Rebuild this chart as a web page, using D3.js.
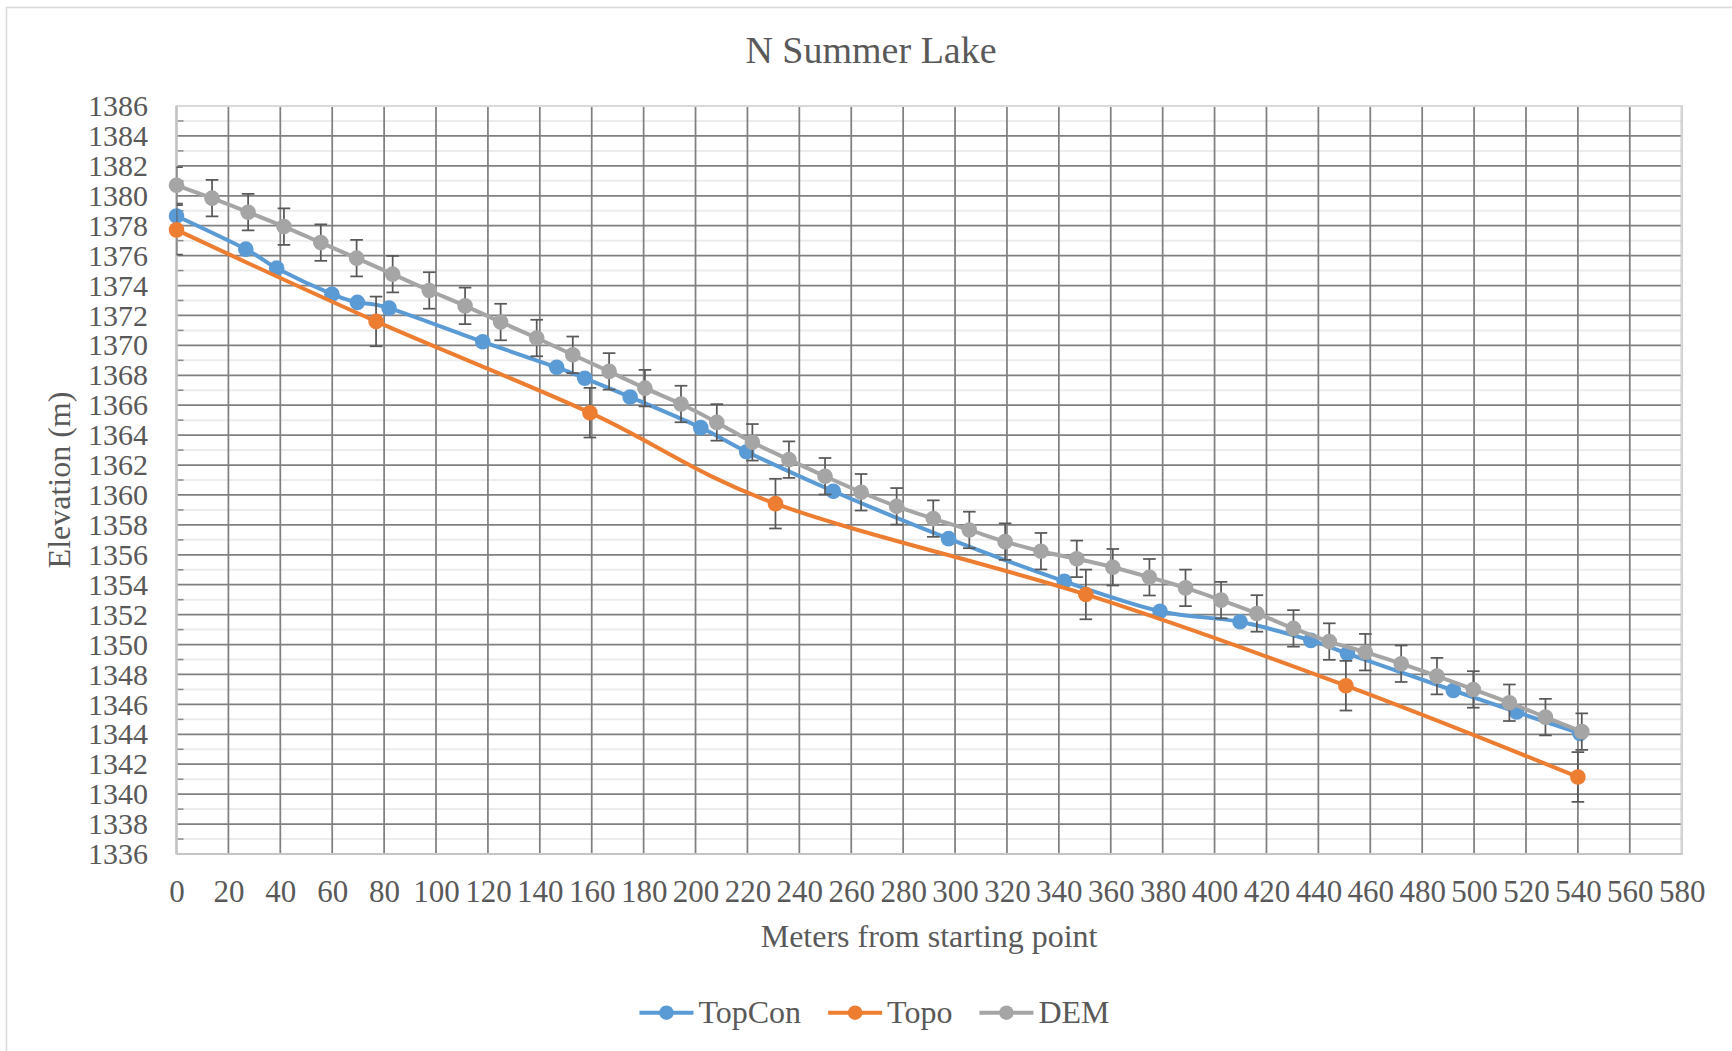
<!DOCTYPE html>
<html>
<head>
<meta charset="utf-8">
<script src="https://cdn.jsdelivr.net/npm/d3@7"></script>
<style>
  body { margin: 0; background: #fff; }
  svg { display: block; font-family: "Liberation Serif", "Times New Roman", serif; }
  .tick text { fill: #595959; }
</style>
</head>
<body>
<div id="chart"></div>
<script>
// Values (metres)
const topconDist = [0, 26.7, 38.6, 59.9, 69.7, 81.9, 118.0, 146.5, 157.3, 174.8, 202.0, 219.7,
  253.1, 297.5, 342.1, 379.0, 409.8, 437.1, 451.2, 492.0, 516.4, 540.8];
const topconElev = [1378.65, 1376.43, 1375.16, 1373.42, 1372.87, 1372.49, 1370.24, 1368.53, 1367.80,
  1366.55, 1364.50, 1362.89, 1360.25, 1357.08, 1354.23, 1352.23, 1351.52, 1350.28, 1349.40,
  1346.93, 1345.49, 1344.06];

const topoDist = [0, 76.9, 159.3, 230.8, 350.4, 450.6, 540.0];
const topoElev = [1377.72, 1371.60, 1365.50, 1359.42, 1353.35, 1347.25, 1341.15];
const topoErr = [1.66, 1.66, 1.66, 1.66, 1.66, 1.66, 1.66];

const demDist = [0, 13.7, 27.6, 41.4, 55.6, 69.4, 83.3, 97.4, 111.2, 124.9, 138.8, 152.7, 166.7,
  180.5, 194.4, 208.2, 221.9, 236.0, 249.9, 263.8, 277.5, 291.6, 305.5, 319.3, 333.1, 346.9,
  360.8, 374.9, 388.8, 402.5, 416.3, 430.4, 444.2, 458.1, 471.9, 485.7, 499.7, 513.6, 527.5, 541.5];
const demElev = [1380.70, 1379.84, 1378.90, 1377.94, 1376.87, 1375.83, 1374.76, 1373.67, 1372.64,
  1371.56, 1370.49, 1369.37, 1368.26, 1367.14, 1366.08, 1364.85, 1363.52, 1362.36, 1361.25,
  1360.18, 1359.24, 1358.42, 1357.66, 1356.88, 1356.24, 1355.73, 1355.17, 1354.50, 1353.79,
  1352.97, 1352.08, 1351.08, 1350.20, 1349.49, 1348.72, 1347.89, 1347.00, 1346.11, 1345.15, 1344.18];
const demErr = demDist.map(() => 1.22);

const xTicks = d3.range(0, 581, 20);
const yTicks = d3.range(1336, 1387, 2);
const yMinor = d3.range(1337, 1386, 2);

const series = [
  { name: "TopCon", color: "#5B9BD5", dist: topconDist, elev: topconElev, err: null },
  { name: "Topo", color: "#ED7D31", dist: topoDist, elev: topoElev, err: topoErr },
  { name: "DEM", color: "#A5A5A5", dist: demDist, elev: demElev, err: demErr },
];

const width = 1732, height = 1051;
const plot = { left: 176.5, right: 1681.7, top: 106, bottom: 854 };
const textColor = "#595959";

const x = d3.scaleLinear().domain([0, 580]).range([plot.left, plot.right]);
const y = d3.scaleLinear().domain([1336, 1386]).range([plot.bottom, plot.top]);

const svg = d3.select("#chart").append("svg")
  .attr("width", width).attr("height", height);

// chart area border (extends past the picture on right/bottom)
svg.append("rect")
  .attr("x", 6.5).attr("y", 7.5).attr("width", width + 20).attr("height", height + 20)
  .attr("fill", "#fff").attr("stroke", "#d9d9d9").attr("stroke-width", 1.5);

svg.append("defs").append("clipPath").attr("id", "plot-clip")
  .append("rect")
  .attr("x", plot.left).attr("y", plot.top)
  .attr("width", plot.right - plot.left).attr("height", plot.bottom - plot.top);

// minor horizontal gridlines
svg.append("g").selectAll("line").data(yMinor).join("line")
  .attr("x1", plot.left).attr("x2", plot.right)
  .attr("y1", (d) => y(d)).attr("y2", (d) => y(d))
  .attr("stroke", "#ececec").attr("stroke-width", 2);

// minor tick marks on the value axis
svg.append("g").selectAll("line").data(yMinor).join("line")
  .attr("x1", plot.left).attr("x2", plot.left + 7)
  .attr("y1", (d) => y(d)).attr("y2", (d) => y(d))
  .attr("stroke", "#8c8c8c").attr("stroke-width", 1.5);

// major gridlines
svg.append("g").selectAll("line").data(yTicks).join("line")
  .attr("x1", plot.left).attr("x2", plot.right)
  .attr("y1", (d) => y(d)).attr("y2", (d) => y(d))
  .attr("stroke", "#808080").attr("stroke-width", 1.75);

svg.append("g").selectAll("line").data(xTicks).join("line")
  .attr("y1", plot.top).attr("y2", plot.bottom)
  .attr("x1", (d) => x(d)).attr("x2", (d) => x(d))
  .attr("stroke", "#808080").attr("stroke-width", 1.75);

// plot area border and axis lines
svg.append("rect")
  .attr("x", plot.left).attr("y", plot.top)
  .attr("width", plot.right - plot.left).attr("height", plot.bottom - plot.top)
  .attr("fill", "none").attr("stroke", "#d9d9d9").attr("stroke-width", 2);

svg.append("line")
  .attr("x1", plot.left).attr("x2", plot.left).attr("y1", plot.top).attr("y2", plot.bottom)
  .attr("stroke", "#c4c4c4").attr("stroke-width", 2);
svg.append("line")
  .attr("x1", plot.left).attr("x2", plot.right).attr("y1", plot.bottom).attr("y2", plot.bottom)
  .attr("stroke", "#c4c4c4").attr("stroke-width", 2);

// axis labels
const yAxis = svg.append("g")
  .attr("transform", `translate(${plot.left},0)`)
  .call(d3.axisLeft(y).tickValues(yTicks).tickSize(0).tickPadding(28.5).tickFormat(d3.format("d")));
const xAxis = svg.append("g")
  .attr("transform", `translate(0,${plot.bottom})`)
  .call(d3.axisBottom(x).tickValues(xTicks).tickSize(0).tickPadding(26).tickFormat(d3.format("d")));
[yAxis, xAxis].forEach((g) => {
  g.attr("font-family", null).attr("font-size", null);
  g.select(".domain").remove();
});
yAxis.selectAll("text").attr("font-size", 30);
xAxis.selectAll("text").attr("font-size", 31);

// series: line, error bars, markers
const line = d3.line()
  .x((d) => x(d[0]))
  .y((d) => y(d[1]))
  .curve(d3.curveCatmullRom.alpha(0));

series.forEach((s) => {
  const pts = s.dist.map((d, i) => [d, s.elev[i], s.err ? s.err[i] : 0]);
  const g = svg.append("g").attr("class", "series");

  g.append("path")
    .datum(pts)
    .attr("d", line)
    .attr("fill", "none")
    .attr("stroke", s.color)
    .attr("stroke-width", 4)
    .attr("stroke-linejoin", "round");

  if (s.err) {
    const eb = g.append("g").attr("clip-path", "url(#plot-clip)")
      .attr("stroke", "#595959").attr("stroke-width", 1.75);
    eb.selectAll("line.stem").data(pts).join("line").attr("class", "stem")
      .attr("x1", (d) => x(d[0])).attr("x2", (d) => x(d[0]))
      .attr("y1", (d) => y(d[1] + d[2])).attr("y2", (d) => y(d[1] - d[2]));
    eb.selectAll("line.cap-top").data(pts).join("line").attr("class", "cap-top")
      .attr("x1", (d) => x(d[0]) - 6.3).attr("x2", (d) => x(d[0]) + 6.3)
      .attr("y1", (d) => y(d[1] + d[2])).attr("y2", (d) => y(d[1] + d[2]));
    eb.selectAll("line.cap-bot").data(pts).join("line").attr("class", "cap-bot")
      .attr("x1", (d) => x(d[0]) - 6.3).attr("x2", (d) => x(d[0]) + 6.3)
      .attr("y1", (d) => y(d[1] - d[2])).attr("y2", (d) => y(d[1] - d[2]));
  }

  g.selectAll("circle").data(pts).join("circle")
    .attr("cx", (d) => x(d[0]))
    .attr("cy", (d) => y(d[1]))
    .attr("r", 7.8)
    .attr("fill", s.color);
});

// titles
svg.append("text")
  .attr("x", 871).attr("y", 62.7)
  .attr("text-anchor", "middle")
  .attr("font-size", 38).attr("fill", textColor)
  .text("N Summer Lake");

svg.append("text")
  .attr("x", (plot.left + plot.right) / 2).attr("y", 946.7)
  .attr("text-anchor", "middle")
  .attr("font-size", 32).attr("fill", textColor)
  .text("Meters from starting point");

svg.append("text")
  .attr("transform", `translate(70,${(plot.top + plot.bottom) / 2}) rotate(-90)`)
  .attr("text-anchor", "middle")
  .attr("font-size", 32).attr("fill", textColor)
  .text("Elevation (m)");

// legend, centred under the chart
const legend = svg.append("g");
const items = legend.selectAll("g.item").data(series).join("g").attr("class", "item");
items.append("line")
  .attr("x1", 0).attr("x2", 54).attr("y1", 0).attr("y2", 0)
  .attr("stroke", (d) => d.color).attr("stroke-width", 4);
items.append("circle")
  .attr("cx", 27).attr("cy", 0).attr("r", 7.2)
  .attr("fill", (d) => d.color);
items.append("text")
  .attr("x", 59).attr("y", 10.6)
  .attr("font-size", 32).attr("fill", textColor)
  .text((d) => d.name);

let offset = 0;
items.each(function () {
  const item = d3.select(this);
  const w = 59 + item.select("text").node().getComputedTextLength();
  item.attr("transform", `translate(${offset},0)`);
  offset += w + 27;
});
const legendWidth = offset - 27;
legend.attr("transform", `translate(${874.5 - legendWidth / 2},1012.7)`);
</script>
</body>
</html>
